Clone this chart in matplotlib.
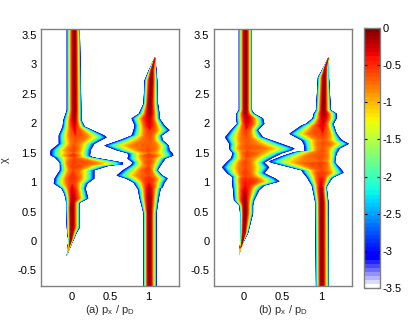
#!/usr/bin/env python3
"""Two momentum/chi log-density panels sharing one colour bar."""

import numpy as np
import matplotlib
matplotlib.use("Agg")
import matplotlib.pyplot as plt
from matplotlib.colors import ListedColormap, Normalize
from matplotlib.cm import ScalarMappable

plt.rcParams['font.family'] = ['Liberation Sans', 'DejaVu Sans']
plt.rcParams['font.size'] = 8
plt.rcParams['mathtext.fontset'] = 'custom'
plt.rcParams['mathtext.rm'] = 'Liberation Sans'

# panel (a), ridge near px=0
a0_chi = [3.62, 2.23, 2.06, 1.95, 1.80, 1.77, 1.66, 1.55, 1.50, 1.46, 1.43, 1.34, 1.31, 1.29, 1.21, 1.07, 0.985, 0.90, 0.83, 0.73, 0.66, 0.58, 0.24, 0.15, 0.02, -0.10, -0.24]
a0_lo = [-0.07, -0.07, -0.115, -0.125, -0.175, -0.175, -0.175, -0.28, -0.29, -0.28, -0.23, -0.16, -0.16, -0.16, -0.16, -0.23, -0.24, -0.14, -0.11, -0.085, -0.08, -0.08, -0.07, -0.065, -0.05, -0.06, -0.07]
a0_hi = [0.10, 0.12, 0.12, 0.165, 0.42, 0.45, 0.29, 0.24, 0.24, 0.23, 0.27, 0.66, 0.66, 0.49, 0.29, 0.29, 0.20, 0.175, 0.19, 0.21, 0.10, 0.10, 0.10, 0.06, 0.015, -0.025, -0.07]
a0_mid = [0.03, 0.03, 0.03, 0.03, 0.04, 0.04, 0.03, 0.02, 0.02, 0.02, 0.02, 0.01, 0.01, 0.01, 0.01, 0.0, 0.0, 0.0, 0.0, 0.0, 0.0, -0.005, -0.005, -0.01, -0.02, -0.04, -0.07]
a0_peak = [-0.05, -0.08, -0.2, -0.35, -0.6, -0.65, -0.7, -0.6, -0.75, -0.5, -0.7, -0.6, -0.65, -0.55, -0.65, -0.5, -0.55, -0.35, -0.3, -0.2, -0.1, -0.05, -0.05, -0.05, -0.1, -0.8, -3.3]
a0_shape = [2, 2, 2.1, 2.2, 2.6, 2.6, 2.2, 2.2, 2.2, 2.2, 2.2, 3.2, 3.2, 2.6, 2.3, 2.2, 2.2, 2.1, 2.1, 2, 2, 2, 2, 2, 2, 2, 2]

# panel (a), ridge near px=1
a1_chi = [3.13, 2.91, 2.74, 2.34, 2.17, 2.09, 1.97, 1.89, 1.80, 1.72, 1.63, 1.55, 1.50, 1.46, 1.41, 1.34, 1.29, 1.21, 1.12, 1.07, 1.0, 0.92, 0.90, 0.73, 0.48, -0.80]
a1_lo = [1.08, 1.0, 0.945, 0.93, 0.87, 0.775, 0.815, 0.80, 0.775, 0.62, 0.42, 0.58, 0.72, 0.735, 0.72, 0.79, 0.76, 0.66, 0.58, 0.70, 0.80, 0.84, 0.855, 0.88, 0.93, 0.93]
a1_hi = [1.09, 1.10, 1.11, 1.12, 1.14, 1.14, 1.205, 1.27, 1.17, 1.18, 1.26, 1.27, 1.31, 1.32, 1.22, 1.18, 1.155, 1.115, 1.18, 1.245, 1.205, 1.18, 1.155, 1.13, 1.10, 1.10]
a1_mid = [1.08, 1.04, 1.03, 1.01, 1.01, 1.01, 1.01, 1.01, 1.01, 1.01, 1.0, 1.0, 1.0, 1.0, 1.0, 1.0, 1.0, 1.0, 1.0, 1.0, 1.0, 1.005, 1.005, 1.005, 1.005, 1.005]
a1_peak = [-3.3, -0.15, -0.05, -0.05, -0.15, -0.3, -0.35, -0.55, -0.6, -0.7, -0.7, -0.65, -0.8, -0.55, -0.65, -0.6, -0.7, -0.55, -0.65, -0.5, -0.45, -0.3, -0.25, -0.1, -0.05, -0.05]
a1_shape = [2, 2, 2, 2, 2.1, 2.2, 2.2, 2.2, 2.2, 2.6, 3.2, 2.6, 2.3, 2.3, 2.2, 2.2, 2.2, 2.2, 2.6, 2.3, 2.2, 2.1, 2.1, 2, 2, 2]

# panel (b), ridge near px=0
b0_chi = [3.62, 2.23, 2.17, 2.09, 2.0, 1.89, 1.77, 1.66, 1.58, 1.55, 1.50, 1.41, 1.34, 1.26, 1.16, 1.10, 1.07, 1.02, 0.95, 0.87, 0.70, 0.61, 0.48, 0.15, -0.03, -0.12, -0.22]
b0_lo = [-0.076, -0.076, -0.11, -0.11, -0.10, -0.18, -0.257, -0.20, -0.20, -0.19, -0.155, -0.18, -0.24, -0.296, -0.23, -0.165, -0.165, -0.16, -0.16, -0.15, -0.14, -0.07, -0.06, -0.06, -0.06, -0.065, -0.07]
b0_hi = [0.095, 0.095, 0.125, 0.24, 0.257, 0.174, 0.24, 0.48, 0.65, 0.61, 0.49, 0.35, 0.257, 0.32, 0.257, 0.35, 0.40, 0.454, 0.257, 0.19, 0.125, 0.11, 0.11, 0.046, -0.024, -0.05, -0.07]
b0_mid = [0.01, 0.01, 0.01, 0.02, 0.02, 0.02, 0.02, 0.02, 0.03, 0.03, 0.03, 0.02, 0.01, 0.01, 0.01, 0.01, 0.01, 0.01, 0.01, 0.0, 0.0, 0.0, 0.0, -0.01, -0.03, -0.055, -0.07]
b0_peak = [-0.05, -0.05, -0.15, -0.25, -0.35, -0.55, -0.65, -0.7, -0.65, -0.75, -0.6, -0.7, -0.6, -0.65, -0.55, -0.6, -0.5, -0.45, -0.4, -0.3, -0.15, -0.05, -0.05, -0.05, -0.1, -0.9, -3.3]
b0_shape = [2, 2, 2, 2.2, 2.2, 2.2, 2.2, 2.6, 3.2, 3.2, 2.6, 2.2, 2.2, 2.2, 2.2, 2.3, 2.6, 2.6, 2.2, 2.1, 2, 2, 2, 2, 2, 2, 2]

# panel (b), ridge near px=1
b1_chi = [3.13, 2.96, 2.79, 2.23, 2.17, 2.09, 2.0, 1.97, 1.83, 1.72, 1.66, 1.58, 1.53, 1.52, 1.45, 1.36, 1.34, 1.21, 1.17, 1.09, 1.07, 0.95, 0.92, 0.70, 0.66, -0.80]
b1_lo = [1.095, 1.03, 0.955, 0.93, 0.90, 0.885, 0.80, 0.74, 0.585, 0.74, 0.77, 0.78, 0.78, 0.65, 0.49, 0.32, 0.35, 0.74, 0.76, 0.81, 0.82, 0.875, 0.88, 0.915, 0.92, 0.93]
b1_hi = [1.095, 1.10, 1.10, 1.125, 1.20, 1.20, 1.16, 1.165, 1.20, 1.27, 1.36, 1.24, 1.22, 1.21, 1.19, 1.18, 1.18, 1.27, 1.29, 1.16, 1.14, 1.08, 1.07, 1.09, 1.095, 1.10]
b1_mid = [1.095, 1.05, 1.04, 1.025, 1.025, 1.025, 1.02, 1.02, 1.02, 1.02, 1.02, 1.01, 1.01, 1.01, 1.01, 1.0, 1.0, 1.0, 1.0, 1.0, 1.0, 1.0, 1.0, 1.005, 1.005, 1.005]
b1_peak = [-3.3, -0.2, -0.05, -0.05, -0.15, -0.25, -0.35, -0.35, -0.6, -0.7, -0.65, -0.7, -0.6, -0.7, -0.65, -0.75, -0.6, -0.65, -0.55, -0.5, -0.4, -0.3, -0.2, -0.08, -0.05, -0.05]
b1_shape = [2, 2, 2, 2, 2.1, 2.2, 2.2, 2.2, 3.2, 2.4, 2.6, 2.4, 2.4, 2.6, 3.2, 3.5, 3.2, 2.4, 2.4, 2.2, 2.2, 2.1, 2.1, 2, 2, 2]

x_ticks = [0, 0.5, 1]
x_tick_labels = ['0', '0.5', '1']
y_ticks = [-0.5, 0, 0.5, 1, 1.5, 2, 2.5, 3, 3.5]
y_tick_labels = ['-0.5', '0', '0.5', '1', '1.5', '2', '2.5', '3', '3.5']
cbar_ticks = [-3.5, -3, -2.5, -2, -1.5, -1, -0.5, 0]
cbar_tick_labels = ['-3.5', '-3', '-2.5', '-2', '-1.5', '-1', '-0.5', '0']

V_MIN = -3.5
V_MAX = 0.0
N_LEVELS = 64
EDGE_SQUEEZE = 0.95  # the pale levels bunch up at the outer edge
W, H = 415.0, 321.0
GREY = '#808080'


def make_cmap():
    """Jet with the bottom end faded from blue down to white."""
    jet = plt.get_cmap('jet')
    colours = []
    for t in np.linspace(0, 1, N_LEVELS):
        if t < 0.11:
            f = t / 0.11
            colours.append((1 - f, 1 - f, 1.0, 1.0))
        else:
            colours.append(jet(t))
    return ListedColormap(colours)


def draw_ridge(ax, cmap, chi, lo, hi, mid, peak, shape):
    """Stack one filled band per colour level, widest and palest first."""
    chi = np.array(chi)
    lo, hi, mid = np.array(lo), np.array(hi), np.array(mid)
    peak, shape = np.array(peak), np.array(shape)
    edges = np.linspace(V_MIN, V_MAX, N_LEVELS + 1)
    for i in range(1, N_LEVELS):
        level = edges[i]
        frac = np.clip((peak - level) / (peak - V_MIN), 0, 1) ** (1.0 / shape)
        frac = np.minimum(frac / EDGE_SQUEEZE, 1.0)
        left = mid - frac * (mid - lo)
        right = mid + frac * (hi - mid)
        ax.fill_betweenx(chi, left, right, color=cmap(i), linewidth=0)


def style_panel(ax, label):
    ax.set_xlim(-0.4, 1.4)
    ax.set_ylim(-0.765, 3.61)
    ax.set_xticks(x_ticks)
    ax.set_xticklabels(x_tick_labels)
    ax.set_yticks(y_ticks)
    ax.set_yticklabels(y_tick_labels)
    ax.tick_params(axis='x', length=0, pad=4)
    ax.tick_params(axis='y', length=0, pad=3)
    ax.set_xlabel(label, color='#303030', labelpad=1)
    for spine in ax.spines.values():
        spine.set_color(GREY)
        spine.set_linewidth(1)


def main():
    cmap = make_cmap()
    fig = plt.figure(figsize=(W / 100, H / 100), dpi=100)

    ax_a = fig.add_axes([41 / W, 1 - 286 / H, 138 / W, 257.5 / H])
    ax_b = fig.add_axes([213.5 / W, 1 - 286 / H, 138 / W, 257.5 / H])
    cax = fig.add_axes([363.5 / W, 1 - 288 / H, 16 / W, 260 / H])

    draw_ridge(ax_a, cmap, a0_chi, a0_lo, a0_hi, a0_mid, a0_peak, a0_shape)
    draw_ridge(ax_a, cmap, a1_chi, a1_lo, a1_hi, a1_mid, a1_peak, a1_shape)
    draw_ridge(ax_b, cmap, b0_chi, b0_lo, b0_hi, b0_mid, b0_peak, b0_shape)
    draw_ridge(ax_b, cmap, b1_chi, b1_lo, b1_hi, b1_mid, b1_peak, b1_shape)

    style_panel(ax_a, r'(a) $\mathregular{p_x}$ / $\mathregular{p_D}$')
    style_panel(ax_b, r'(b) $\mathregular{p_x}$ / $\mathregular{p_D}$')
    ax_a.set_ylabel('χ', color='#303030')
    ax_a.yaxis.set_label_coords(-0.225, 0.49)

    sm = ScalarMappable(norm=Normalize(V_MIN, V_MAX), cmap=cmap)
    cbar = fig.colorbar(sm, cax=cax)
    cbar.set_ticks(cbar_ticks)
    cbar.set_ticklabels(cbar_tick_labels)
    cax.tick_params(axis='y', direction='in', left=True, right=True, length=2, width=0.8, pad=2)
    cbar.outline.set_edgecolor(GREY)
    cbar.outline.set_linewidth(1)

    fig.savefig('out.png', dpi=100)
    plt.close(fig)


if __name__ == '__main__':
    main()
